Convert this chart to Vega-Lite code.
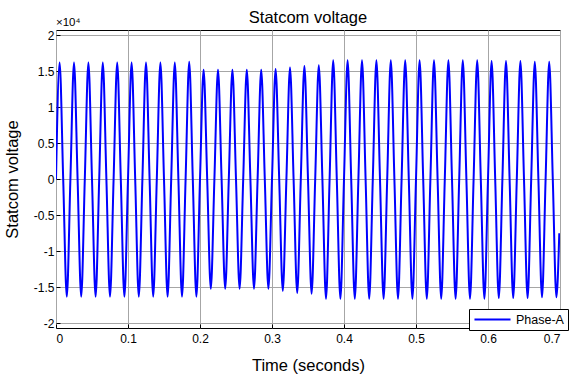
{
  "$schema": "https://vega.github.io/schema/vega-lite/v6.json",
  "autosize": {"type": "none"},
  "width": 504,
  "height": 298,
  "padding": {"left": 56, "top": 30, "right": 15, "bottom": 55},
  "background": "white",
  "title": {"text": "Statcom voltage", "fontSize": 16.5, "fontWeight": "normal", "font": "Liberation Sans", "color": "#000000", "offset": 7, "dy": 16},
  "config": {
    "view": {"stroke": "#000000", "strokeWidth": 1},
    "font": "Liberation Sans"
  },
  "resolve": {"axis": {"x": "independent", "y": "independent"}},
  "layer": [
    {
      "data": {"values": [
        {"t":0,"v":0},{"t":0.005,"v":16200},{"t":0.01,"v":0},{"t":0.015,"v":-16300},
        {"t":0.02,"v":0},{"t":0.025,"v":16200},{"t":0.03,"v":0},{"t":0.035,"v":-16300},
        {"t":0.04,"v":0},{"t":0.045,"v":16200},{"t":0.05,"v":0},{"t":0.055,"v":-16300},
        {"t":0.06,"v":0},{"t":0.065,"v":16200},{"t":0.07,"v":0},{"t":0.075,"v":-16300},
        {"t":0.08,"v":0},{"t":0.085,"v":16200},{"t":0.09,"v":0},{"t":0.095,"v":-16300},
        {"t":0.1,"v":0},{"t":0.105,"v":16200},{"t":0.11,"v":0},{"t":0.115,"v":-16300},
        {"t":0.12,"v":0},{"t":0.125,"v":16200},{"t":0.13,"v":0},{"t":0.135,"v":-16300},
        {"t":0.14,"v":0},{"t":0.145,"v":16200},{"t":0.15,"v":0},{"t":0.155,"v":-16300},
        {"t":0.16,"v":0},{"t":0.165,"v":16200},{"t":0.17,"v":0},{"t":0.175,"v":-16300},
        {"t":0.18,"v":0},{"t":0.185,"v":16300},{"t":0.19,"v":0},{"t":0.195,"v":-16300},
        {"t":0.2,"v":0},{"t":0.205,"v":15200},{"t":0.21,"v":0},{"t":0.215,"v":-15200},
        {"t":0.22,"v":0},{"t":0.225,"v":15200},{"t":0.23,"v":0},{"t":0.235,"v":-15200},
        {"t":0.24,"v":0},{"t":0.245,"v":15200},{"t":0.25,"v":0},{"t":0.255,"v":-15200},
        {"t":0.26,"v":0},{"t":0.265,"v":15200},{"t":0.27,"v":0},{"t":0.275,"v":-15200},
        {"t":0.28,"v":0},{"t":0.285,"v":15200},{"t":0.29,"v":0},{"t":0.295,"v":-15200},
        {"t":0.3,"v":0},{"t":0.305,"v":15300},{"t":0.31,"v":0},{"t":0.315,"v":-15500},
        {"t":0.32,"v":0},{"t":0.325,"v":15500},{"t":0.33,"v":0},{"t":0.335,"v":-15800},
        {"t":0.34,"v":0},{"t":0.345,"v":15700},{"t":0.35,"v":0},{"t":0.355,"v":-15900},
        {"t":0.36,"v":0},{"t":0.365,"v":15800},{"t":0.37,"v":0},{"t":0.375,"v":-16600},
        {"t":0.38,"v":0},{"t":0.385,"v":16500},{"t":0.39,"v":0},{"t":0.395,"v":-16600},
        {"t":0.4,"v":0},{"t":0.405,"v":16500},{"t":0.41,"v":0},{"t":0.415,"v":-16600},
        {"t":0.42,"v":0},{"t":0.425,"v":16500},{"t":0.43,"v":0},{"t":0.435,"v":-16600},
        {"t":0.44,"v":0},{"t":0.445,"v":16500},{"t":0.45,"v":0},{"t":0.455,"v":-16600},
        {"t":0.46,"v":0},{"t":0.465,"v":16500},{"t":0.47,"v":0},{"t":0.475,"v":-16600},
        {"t":0.48,"v":0},{"t":0.485,"v":16500},{"t":0.49,"v":0},{"t":0.495,"v":-16600},
        {"t":0.5,"v":0},{"t":0.505,"v":16500},{"t":0.51,"v":0},{"t":0.515,"v":-16600},
        {"t":0.52,"v":0},{"t":0.525,"v":16500},{"t":0.53,"v":0},{"t":0.535,"v":-16600},
        {"t":0.54,"v":0},{"t":0.545,"v":16500},{"t":0.55,"v":0},{"t":0.555,"v":-16600},
        {"t":0.56,"v":0},{"t":0.565,"v":16500},{"t":0.57,"v":0},{"t":0.575,"v":-16600},
        {"t":0.58,"v":0},{"t":0.585,"v":16500},{"t":0.59,"v":0},{"t":0.595,"v":-16600},
        {"t":0.6,"v":0},{"t":0.605,"v":16400},{"t":0.61,"v":0},{"t":0.615,"v":-16500},
        {"t":0.62,"v":0},{"t":0.625,"v":16400},{"t":0.63,"v":0},{"t":0.635,"v":-16500},
        {"t":0.64,"v":0},{"t":0.645,"v":16400},{"t":0.65,"v":0},{"t":0.655,"v":-16500},
        {"t":0.66,"v":0},{"t":0.665,"v":16300},{"t":0.67,"v":0},{"t":0.675,"v":-16400},
        {"t":0.68,"v":0},{"t":0.685,"v":16300},{"t":0.69,"v":0},{"t":0.695,"v":-16400},
        {"t":0.699,"v":-7500}
      ]},
      "mark": {"type": "line", "interpolate": "monotone", "strokeWidth": 2, "clip": true},
      "encoding": {
        "x": {
          "field": "t", "type": "quantitative",
          "scale": {"domain": [0, 0.7], "nice": false, "zero": false},
          "axis": {
            "title": "Time (seconds)", "titleFontSize": 16.5, "titleFontWeight": "normal", "titleColor": "#000000", "titlePadding": 13,
            "values": [0, 0.1, 0.2, 0.3, 0.4, 0.5, 0.6, 0.7],
            "labelExpr": "datum.value + ''",
            "labelFontSize": 12, "labelColor": "#000000", "labelPadding": 9,
            "grid": true, "gridColor": "#a6a6a6", "gridWidth": 1,
            "domain": false, "ticks": true, "tickSize": -4, "tickColor": "#000000"
          }
        },
        "y": {
          "field": "v", "type": "quantitative",
          "scale": {"domain": [-20650, 20700], "nice": false, "zero": false},
          "axis": {
            "title": "Statcom voltage", "titleFontSize": 16.5, "titleFontWeight": "normal", "titleColor": "#000000", "titlePadding": 13,
            "values": [-20000, -15000, -10000, -5000, 0, 5000, 10000, 15000, 20000],
            "labelExpr": "(datum.value / 10000) + ''",
            "labelFontSize": 12, "labelColor": "#000000", "labelPadding": 6, "labelOverlap": false,
            "grid": true, "gridColor": "#a6a6a6", "gridWidth": 1,
            "domain": false, "ticks": true, "tickSize": -4, "tickColor": "#000000"
          }
        },
        "color": {
          "datum": "Phase-A",
          "scale": {"range": ["#0000ff"]},
          "legend": {
            "title": null, "orient": "none", "legendX": 413, "legendY": 279,
            "symbolType": "stroke", "symbolSize": 1300, "symbolStrokeWidth": 2,
            "clipHeight": 13,
            "labelFontSize": 12.5, "labelColor": "#000000",
            "strokeColor": "#000000", "fillColor": "#ffffff", "padding": 4
          }
        }
      }
    },
    {
      "data": {"values": [{"label": "×10⁴"}]},
      "mark": {"type": "text", "align": "left", "baseline": "bottom", "fontSize": 11.5, "dy": -2, "color": "#000000"},
      "encoding": {
        "x": {"datum": 0, "axis": null},
        "y": {"datum": 20700, "axis": null},
        "text": {"field": "label"}
      }
    }
  ]
}
